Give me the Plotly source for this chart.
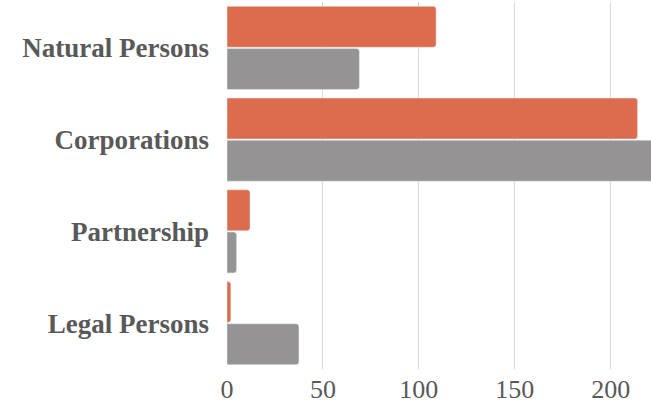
"""Horizontal grouped bars: entity types, two series."""
import plotly.graph_objects as go

categories = ["Natural Persons", "Corporations", "Partnership", "Legal Persons"]
series_a = [109, 214, 12, 2]
series_b = [69, 240, 5, 37.5]

COLOR_A = "#dd6b4d"
COLOR_B = "#959393"
TEXT = "#595959"
FONT = "Liberation Serif"

fig = go.Figure()
fig.add_trace(go.Bar(y=categories, x=series_a, orientation="h",
                     marker=dict(color=COLOR_A, cornerradius=3)))
fig.add_trace(go.Bar(y=categories, x=series_b, orientation="h",
                     marker=dict(color=COLOR_B, cornerradius=3)))

fig.update_layout(
    width=651, height=405,
    barmode="group", bargap=0.08, bargroupgap=0.03,
    showlegend=False,
    plot_bgcolor="white", paper_bgcolor="white",
    margin=dict(l=227, r=0, t=2, b=36),
    font=dict(family=FONT, color=TEXT),
)
fig.update_xaxes(
    range=[0, 221], tickvals=[0, 50, 100, 150, 200],
    showgrid=True, gridcolor="#d9d9d9", gridwidth=1,
    zeroline=False, showline=False, automargin=False,
    ticklabelstandoff=2,
    tickfont=dict(size=26, color=TEXT),
)
fig.update_yaxes(
    autorange="reversed", showgrid=False, showline=False, automargin=False,
    ticklabelstandoff=17,
    tickfont=dict(size=27, color=TEXT, weight="bold"),
)

# page body has a default 8px margin; drop it so the figure fills the window
fig.write_html(
    "out.html",
    config={"displayModeBar": False},
    post_script="document.body.style.margin='0';",
)
